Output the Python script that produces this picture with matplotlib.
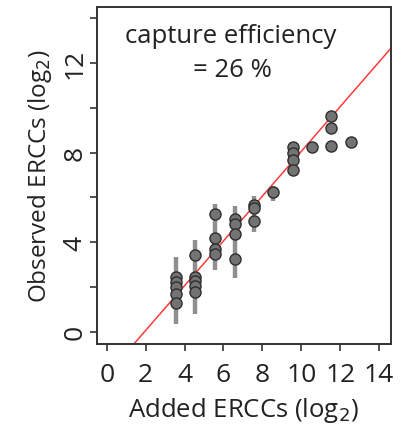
import numpy as np
import matplotlib.pyplot as plt

# added vs observed ERCC spike-ins (log2)
added = [3.55, 3.55, 3.55, 3.55, 3.55,
         4.55, 4.55, 4.55, 4.55, 4.55,
         5.57, 5.57, 5.57, 5.57,
         6.57, 6.57, 6.57, 6.57,
         7.57, 7.57, 7.57,
         8.56,
         9.55, 9.55, 9.55, 9.55,
         10.56,
         11.55, 11.55, 11.55,
         12.57]
observed = [2.46, 2.23, 2.0, 1.7, 1.3,
            3.44, 2.46, 2.28, 2.05, 1.79,
            5.27, 4.2, 3.7, 3.48,
            5.04, 4.82, 4.38, 3.26,
            5.67, 5.54, 4.96,
            6.25,
            8.26, 7.99, 7.68, 7.23,
            8.26,
            9.64, 9.1, 8.3,
            8.48]

# spread of the replicate values per spike-in level
bar_x  = [3.55, 4.55, 5.57, 6.57, 7.57, 8.56]
bar_lo = [0.36, 0.8, 2.77, 2.4, 4.46, 5.85]
bar_hi = [3.35, 4.1, 5.7, 5.6, 6.07, 6.5]

efficiency = 0.26

plt.rcParams['font.family'] = ['Open Sans', 'DejaVu Sans']

fig = plt.figure(figsize=(4.05, 4.27), dpi=100)
ax = fig.add_axes([0.2395, 0.192, 0.7255, 0.789])

ax.vlines(bar_x, bar_lo, bar_hi, color="#8f8f8f", linewidth=3.2, zorder=1)

xx = np.array([-1, 16])
ax.plot(xx, xx + np.log2(efficiency), color="#ff3b3b", linewidth=1.1, zorder=2)

ax.plot(added, observed, linestyle="none", marker="o", markersize=8,
        markerfacecolor="#737373", markeredgecolor="#2e2e2e",
        markeredgewidth=1.0, zorder=3)

ax.text(0.456, 0.917, "capture efficiency", transform=ax.transAxes,
        ha="center", va="center", fontsize=18.5, color="#222222")
ax.text(0.46, 0.816, "= 26 %", transform=ax.transAxes,
        ha="center", va="center", fontsize=18.5, color="#222222")

ax.set_xlim(-0.5, 14.6)
ax.set_ylim(-0.55, 14.5)
ax.set_xticks(range(0, 15, 2))
ax.set_yticks(range(0, 15, 2))
ax.set_yticklabels([str(v) if v % 4 == 0 else "" for v in range(0, 15, 2)],
                   rotation=90, va="center")
ax.tick_params(direction="out", length=5, width=1.2, colors="#333333",
               labelsize=19, labelcolor="#222222")
ax.tick_params(axis="x", pad=8)
ax.tick_params(axis="y", pad=2)

for s in ax.spines.values():
    s.set_color("#333333")
    s.set_linewidth(1.4)

ax.set_xlabel("Added ERCCs (log$_2$)", fontsize=18.5, color="#222222", labelpad=6)
ax.set_ylabel("Observed ERCCs (log$_2$)", fontsize=17.5, color="#222222", labelpad=6)

fig.savefig("out.png", dpi=100)
